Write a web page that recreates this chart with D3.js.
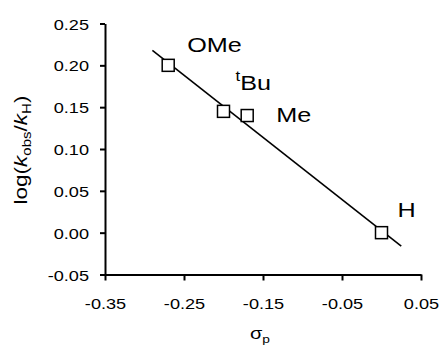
<!DOCTYPE html>
<html lang="en">

<head>
  <meta charset="UTF-8">
  <title>Hammett plot</title>
  <style>
    * {
      margin: 0;
      padding: 0;
      box-sizing: border-box;
    }

    body {
      background-color: white;
      width: 440px;
      height: 346px;
      overflow: hidden;
    }

    svg text {
      font-family: "Liberation Sans", Arial, sans-serif;
      fill: #000;
    }
  </style>
  <script src="https://cdnjs.cloudflare.com/ajax/libs/d3/7.8.5/d3.min.js"></script>
</head>

<body>
  <svg id="chart" width="440" height="346"></svg>

  <script>
    // values
    const substituents = ["OMe", "tBu", "Me", "H"];
    const sigmaP = [-0.27, -0.20, -0.17, 0.00];
    const logRatio = [0.200, 0.145, 0.140, 0.000];

    // least squares line, ends as drawn
    const fitX = [-0.29, 0.025];
    const fitY = [0.218, -0.016];

    const xTicks = [-0.35, -0.25, -0.15, -0.05, 0.05];
    const yTicks = [-0.05, 0.00, 0.05, 0.10, 0.15, 0.20, 0.25];

    const width = 440;
    const height = 346;
    const margin = { top: 23.5, right: 19, bottom: 71.5, left: 105 };
    const stretch = 1.25; // the original text is wide

    // plain hyphen for negatives, like the original
    const fmt = d3.formatLocale({
      decimal: ".", thousands: ",", grouping: [3], currency: ["", ""], minus: "-"
    }).format(".2f");

    const svg = d3.select("#chart");

    const x = d3.scaleLinear()
      .domain([-0.35, 0.05])
      .range([margin.left, width - margin.right]);

    const y = d3.scaleLinear()
      .domain([-0.05, 0.25])
      .range([height - margin.bottom, margin.top]);

    // axes
    const xAxis = svg.append("g")
      .attr("transform", `translate(0,${height - margin.bottom})`)
      .call(d3.axisBottom(x).tickValues(xTicks).tickSize(6).tickSizeOuter(0)
        .tickFormat(fmt));

    const yAxis = svg.append("g")
      .attr("transform", `translate(${margin.left},0)`)
      .call(d3.axisLeft(y).tickValues(yTicks).tickSize(5).tickSizeOuter(0)
        .tickFormat(fmt));

    [xAxis, yAxis].forEach(a => {
      a.select(".domain").attr("stroke", "#000").attr("stroke-width", 2);
      a.selectAll(".tick line").attr("stroke", "#000").attr("stroke-width", 2);
      a.selectAll(".tick text")
        .style("font-size", "14.5px")
        .style("font-family", '"Liberation Sans", Arial, sans-serif')
        .attr("fill", "#000");
    });

    xAxis.selectAll(".tick text")
      .attr("y", 0).attr("dy", null)
      .attr("transform", `translate(0,34) scale(${stretch},1)`);

    yAxis.selectAll(".tick text")
      .attr("x", 0).attr("dy", null)
      .attr("transform", `translate(-16,5.5) scale(${stretch},1)`);

    // fitted line
    const line = d3.line()
      .x(d => x(d[0]))
      .y(d => y(d[1]));

    svg.append("path")
      .datum(d3.zip(fitX, fitY))
      .attr("d", line)
      .attr("fill", "none")
      .attr("stroke", "#000")
      .attr("stroke-width", 1.6);

    // points
    const pts = d3.zip(substituents, sigmaP, logRatio);
    const sq = 12;

    svg.append("g")
      .selectAll("rect")
      .data(pts)
      .join("rect")
      .attr("x", d => x(d[1]) - sq / 2)
      .attr("y", d => y(d[2]) - sq / 2)
      .attr("width", sq)
      .attr("height", sq)
      .attr("fill", "white")
      .attr("stroke", "#000")
      .attr("stroke-width", 1.5);

    // labels next to points
    const offsets = {
      OMe: [19, -13],
      tBu: [12, -21],
      Me: [29, 6],
      H: [16, -16]
    };

    const labels = svg.append("g")
      .selectAll("text")
      .data(pts)
      .join("text")
      .attr("transform", d => {
        const o = offsets[d[0]];
        return `translate(${x(d[1]) + o[0]},${y(d[2]) + o[1]}) scale(1.2,1)`;
      })
      .style("font-size", "21px");

    labels.each(function (d) {
      const t = d3.select(this);
      if (d[0] === "tBu") {
        t.append("tspan").text("t").style("font-size", "14px").attr("dy", -9);
        t.append("tspan").text("Bu").attr("dy", 9);
      } else {
        t.text(d[0]);
      }
    });

    // axis titles
    const xt = svg.append("text")
      .attr("transform", `translate(${(margin.left + width - margin.right) / 2 - 3},339) scale(${stretch},1)`)
      .attr("text-anchor", "middle")
      .style("font-size", "16px");
    xt.append("tspan").text("σ");
    xt.append("tspan").text("p").style("font-size", "11px").attr("dy", 4);

    const yt = svg.append("text")
      .attr("transform", `translate(27,150) rotate(-90) scale(${stretch},1)`)
      .attr("text-anchor", "middle")
      .style("font-size", "18px");
    yt.append("tspan").text("log(");
    yt.append("tspan").text("k").style("font-style", "italic");
    yt.append("tspan").text("obs").style("font-size", "12px").attr("dy", 4);
    yt.append("tspan").text("/").attr("dy", -4);
    yt.append("tspan").text("k").style("font-style", "italic");
    yt.append("tspan").text("H").style("font-size", "12px").attr("dy", 4);
    yt.append("tspan").text(")").attr("dy", -4);
  </script>
</body>

</html>
